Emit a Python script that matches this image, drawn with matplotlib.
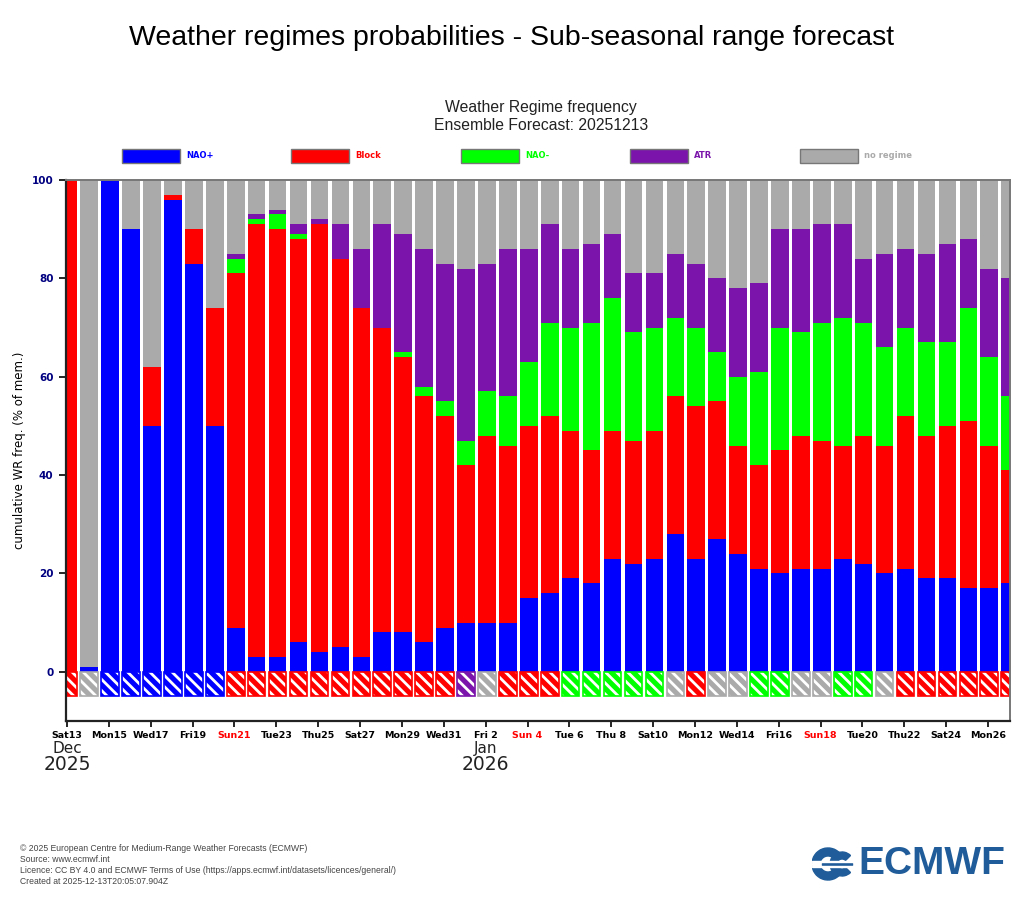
import matplotlib
matplotlib.use("Agg")
import matplotlib.pyplot as plt
from matplotlib.patches import Rectangle, Wedge
import numpy as np
import pandas as pd

# ---------------- data ----------------
dates = pd.date_range("2025-12-13", "2026-01-27", freq="D")
nao_plus = [0, 1, 100, 90, 50, 96, 83, 50, 9, 3, 3, 6, 4, 5, 3, 8, 8, 6, 9,
            10, 10, 10, 15, 16, 19, 18, 23, 22, 23, 28, 23, 27, 24, 21, 20, 21,
            21, 23, 22, 20, 21, 19, 19, 17, 17, 18]
block = [100, 0, 0, 0, 12, 1, 7, 24, 72, 88, 87, 82, 87, 79, 71, 62, 56, 50, 43,
         32, 38, 36, 35, 36, 30, 27, 26, 25, 26, 28, 31, 28, 22, 21, 25, 27,
         26, 23, 26, 26, 31, 29, 31, 34, 29, 23]
nao_minus = [0, 0, 0, 0, 0, 0, 0, 0, 3, 1, 3, 1, 0, 0, 0, 0, 1, 2, 3,
             5, 9, 10, 13, 19, 21, 26, 27, 22, 21, 16, 16, 10, 14, 19, 25, 21,
             24, 26, 23, 20, 18, 19, 17, 23, 18, 15]
atr = [0, 0, 0, 0, 0, 0, 0, 0, 1, 1, 1, 2, 1, 7, 12, 21, 24, 28, 28,
       35, 26, 30, 23, 20, 16, 16, 13, 12, 11, 13, 13, 15, 18, 18, 20, 21,
       20, 19, 13, 19, 16, 18, 20, 14, 18, 24]
no_regime = [0, 99, 0, 10, 38, 3, 10, 26, 15, 7, 6, 9, 8, 9, 14, 9, 11, 14, 17,
             18, 17, 14, 14, 9, 14, 13, 11, 19, 19, 15, 17, 20, 22, 21, 10, 10,
             9, 9, 16, 15, 14, 15, 13, 12, 18, 20]
# dominant regime shown in hatched boxes below zero
dominant = (["Block", "none"] + ["NAO+"] * 6 + ["Block"] * 11 +
            ["ATR", "none", "Block", "Block", "Block"] + ["NAO-"] * 5 +
            ["none", "Block", "none", "none", "NAO-", "NAO-", "none", "none",
             "NAO-", "NAO-", "none"] + ["Block"] * 6)

regimes = ["NAO+", "Block", "NAO-", "ATR", "no regime"]
legend_labels = ["NAO+", "Block", "NAO-", "ATR", "no regime"]
colors = {"NAO+": "#0000ff", "Block": "#ff0000", "NAO-": "#00ff00",
          "ATR": "#7a14aa", "no regime": "#aaaaaa", "none": "#aaaaaa"}
series = [nao_plus, block, nao_minus, atr, no_regime]

# ---------------- figure ----------------
plt.rcParams["hatch.linewidth"] = 2.0
fig = plt.figure(figsize=(10.24, 9.22), dpi=100)
W, H = 1024, 922
ax = fig.add_axes([66 / W, 1 - 721 / H, (1010 - 66) / W, (721 - 180) / H])

x = np.arange(len(dates)) + 0.06
bw = 0.84
bottom = np.zeros(len(dates))
for name, vals in zip(regimes, series):
    v = np.array(vals, dtype=float)
    ax.bar(x, v, bw, bottom=bottom, color=colors[name], linewidth=0)
    bottom += v

dom_cols = [colors[d] for d in dominant]
ax.bar(x, -5, bw, bottom=0, color=dom_cols, edgecolor="white",
       hatch="\\\\\\", linewidth=0)
ax.bar(x, -5, bw, bottom=0, fill=False, edgecolor=dom_cols, linewidth=1.2)

ax.set_xlim(-0.05, 45.05)
ax.set_ylim(-10, 100)

ax.set_yticks([0, 20, 40, 60, 80, 100])
ax.tick_params(axis="y", labelsize=7.5, labelcolor="#000080", length=5,
               width=1.2, direction="out", pad=4)
for t in ax.get_yticklabels():
    t.set_fontweight("bold")

tick_idx = list(range(0, 45, 2))
labels = []
for i in tick_idx:
    d = dates[i]
    labels.append(f"{d.strftime('%a')}{d.day:2d}")
ax.set_xticks(tick_idx)
ax.set_xticklabels(labels, fontsize=6.8, fontweight="bold")
ax.tick_params(axis="x", length=4, width=1.2, pad=3)
for i, t in zip(tick_idx, ax.get_xticklabels()):
    if dates[i].dayofweek == 6:
        t.set_color("#ff0000")

for sp in ["left", "bottom"]:
    ax.spines[sp].set_linewidth(1.6)
    ax.spines[sp].set_color("#222222")
for sp in ["top", "right"]:
    ax.spines[sp].set_linewidth(1.4)
    ax.spines[sp].set_color("#777777")

ax.set_ylabel("cumulative WR freq. (% of mem.)", fontsize=8.5, labelpad=4)

# month / year labels
xt = ax.get_xaxis_transform()
ax.text(0, -0.051, "Dec", transform=xt, ha="center", va="center",
        fontsize=11, color="#222222")
ax.text(0, -0.081, "2025", transform=xt, ha="center", va="center",
        fontsize=13.5, color="#222222")
ax.text(20, -0.051, "Jan", transform=xt, ha="center", va="center",
        fontsize=11, color="#222222")
ax.text(20, -0.081, "2026", transform=xt, ha="center", va="center",
        fontsize=13.5, color="#222222")

# titles
fig.text(512 / W, 1 - 38 / H, "Weather regimes probabilities - Sub-seasonal range forecast",
         ha="center", va="center", fontsize=20.5, family="Liberation Sans")
fig.text(541 / W, 1 - 107 / H, "Weather Regime frequency", ha="center",
         va="center", fontsize=11.3, family="Liberation Sans", color="#222222")
fig.text(541 / W, 1 - 126 / H, "Ensemble Forecast: 20251213", ha="center",
         va="center", fontsize=11.3, family="Liberation Sans", color="#222222")

# legend
lx0 = [122, 291, 461, 630, 800]
for lx, name, lab in zip(lx0, regimes, legend_labels):
    fig.add_artist(Rectangle((lx / W, 1 - 163 / H), 58 / W, 14 / H,
                             transform=fig.transFigure, facecolor=colors[name],
                             edgecolor="#777777", linewidth=1))
    fig.text((lx + 64) / W, 1 - 156 / H, lab, ha="left", va="center",
             fontsize=6, fontweight="bold", color=colors[name])

# footer
foot = ["\u00a9 2025 European Centre for Medium-Range Weather Forecasts (ECMWF)",
        "Source: www.ecmwf.int",
        "Licence: CC BY 4.0 and ECMWF Terms of Use (https://apps.ecmwf.int/datasets/licences/general/)",
        "Created at 2025-12-13T20:05:07.904Z"]
for k, line in enumerate(foot):
    fig.text(20 / W, 1 - (848 + 11 * k) / H, line, ha="left", va="center",
             fontsize=6.2, family="Liberation Sans", color="#444444")

# ECMWF logo
logo_c = "#1f5c99"
fig.text(1005 / W, 1 - 864 / H, "ECMWF", ha="right", va="center", fontsize=28,
         fontweight="bold", family="Liberation Sans", color=logo_c)
lax = fig.add_axes([812 / W, 1 - 882 / H, 46 / W, 36 / H])
lax.set_xlim(0, 46)
lax.set_ylim(0, 36)
lax.set_aspect("equal")
lax.axis("off")
lax.add_patch(Wedge((16, 18), 16, 40, 320, width=8, color=logo_c))
lax.add_patch(Wedge((30, 18), 12, 45, 315, width=7, color=logo_c))
lax.add_patch(Rectangle((0, 16.8), 46, 2.4, color="white"))
lax.add_patch(Rectangle((10, 16.8), 30, 2.4, color=logo_c))
lax.add_patch(Rectangle((0, 14.6), 46, 1.4, color="white"))
lax.add_patch(Rectangle((0, 20.0), 46, 1.4, color="white"))

fig.savefig("out.png", dpi=100)
